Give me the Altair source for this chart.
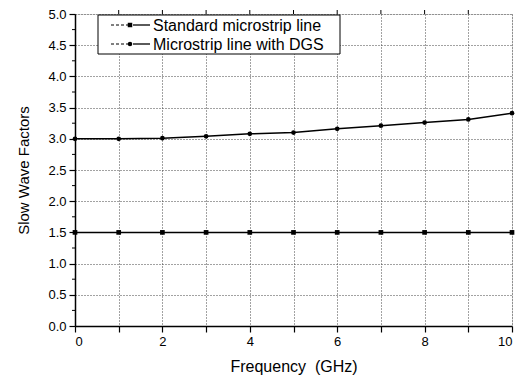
import altair as alt
import pandas as pd

freq = [0, 1, 2, 3, 4, 5, 6, 7, 8, 9, 10]
standard = [1.5, 1.5, 1.5, 1.5, 1.5, 1.5, 1.5, 1.5, 1.5, 1.5, 1.5]
dgs = [3.0, 3.0, 3.01, 3.04, 3.08, 3.10, 3.16, 3.21, 3.26, 3.31, 3.41]
series_names = ["Standard microstrip line", "Microstrip line with DGS"]
x_ticks = [0, 1, 2, 3, 4, 5, 6, 7, 8, 9, 10]
y_ticks = [0.0, 0.5, 1.0, 1.5, 2.0, 2.5, 3.0, 3.5, 4.0, 4.5, 5.0]
y_minor = [0.25, 0.75, 1.25, 1.75, 2.25, 2.75, 3.25, 3.75, 4.25, 4.75]
x_top = [1, 2, 3, 4, 5, 6, 7, 8, 9]

df = pd.DataFrame({
    "freq": freq * 2,
    "val": standard + dgs,
    "series": [series_names[0]] * len(freq) + [series_names[1]] * len(freq),
})

FONT = "Liberation Sans"
W, H = 437, 312

xscale = alt.Scale(domain=[0, 10], nice=False, zero=False)
yscale = alt.Scale(domain=[0, 5], nice=False, zero=False)

xaxis = alt.Axis(
    values=x_ticks, labelExpr="datum.value % 2 == 0 ? datum.label : ''",
    title="Frequency\u00a0 (GHz)", grid=True, gridDash=[1, 2], gridColor="#444",
    gridWidth=1, tickSize=6, tickColor="black", tickWidth=1.2,
    domainColor="black", domainWidth=1.5, labelFontSize=13, labelFont=FONT,
    labelColor="black", labelPadding=3, labelOverlap=False, titleFont=FONT,
    titleFontSize=16, titleFontWeight="normal", titleColor="black", titlePadding=10,
)
yaxis = alt.Axis(
    values=y_ticks, format=".1f", title="Slow Wave Factors", grid=True,
    gridDash=[1, 2], gridColor="#444", gridWidth=1, tickSize=6,
    tickColor="black", tickWidth=1.2, domainColor="black", domainWidth=1.5,
    labelFontSize=13, labelFont=FONT, labelColor="black", labelPadding=3,
    labelOverlap=False, titleFont=FONT, titleFontSize=15, titleFontWeight="normal",
    titleColor="black", titlePadding=16,
)

lines = alt.Chart(df).mark_line(color="black", strokeWidth=1.5).encode(
    x=alt.X("freq:Q", scale=xscale, axis=xaxis),
    y=alt.Y("val:Q", scale=yscale, axis=yaxis),
    detail="series:N",
)
points = alt.Chart(df).mark_point(filled=True, color="black", opacity=1, size=22).encode(
    x=alt.X("freq:Q", scale=xscale, axis=xaxis),
    y=alt.Y("val:Q", scale=yscale, axis=yaxis),
    shape=alt.Shape("series:N", scale=alt.Scale(domain=series_names, range=["square", "circle"]), legend=None),
)

minor = alt.Chart(pd.DataFrame({"v": y_minor})).mark_rule(color="black", strokeWidth=1).encode(
    y=alt.Y("v:Q", scale=yscale, axis=yaxis), x=alt.value(-3), x2=alt.value(0)
)
top = alt.Chart(pd.DataFrame({"v": x_top})).mark_rule(color="black", strokeWidth=1).encode(
    x=alt.X("v:Q", scale=xscale, axis=xaxis), y=alt.value(-4), y2=alt.value(0)
)

one = pd.DataFrame({"a": [0]})
box = alt.Chart(one).mark_rect(fill="white", stroke="black", strokeWidth=1).encode(
    x=alt.value(23), x2=alt.value(265), y=alt.value(1), y2=alt.value(40)
)
legend_layers = [box]
shapes = ["square", "circle"]
for i, (name, shp) in enumerate(zip(series_names, shapes)):
    yy = 11 + i * 19
    legend_layers.append(alt.Chart(one).mark_rule(color="black", strokeWidth=1, strokeDash=[3, 2]).encode(
        x=alt.value(36), x2=alt.value(53), y=alt.value(yy)))
    legend_layers.append(alt.Chart(one).mark_rule(color="black", strokeWidth=1.3).encode(
        x=alt.value(58), x2=alt.value(75), y=alt.value(yy)))
    legend_layers.append(alt.Chart(one).mark_point(filled=True, color="black", opacity=1, size=20, shape=shp).encode(
        x=alt.value(55), y=alt.value(yy)))
    legend_layers.append(alt.Chart(one).mark_text(align="left", baseline="middle", font=FONT, fontSize=16, color="black").encode(
        x=alt.value(78), y=alt.value(yy + 1), text=alt.value(name)))

chart = alt.layer(lines, points, minor, top, *legend_layers).properties(
    width=W, height=H, autosize="none",
    padding={"left": 67, "top": 6, "right": 7, "bottom": 52},
).configure_view(stroke="black", strokeWidth=1.5).configure(background="white")

chart.save("out.html", embed_options={"renderer": "svg", "actions": False})
